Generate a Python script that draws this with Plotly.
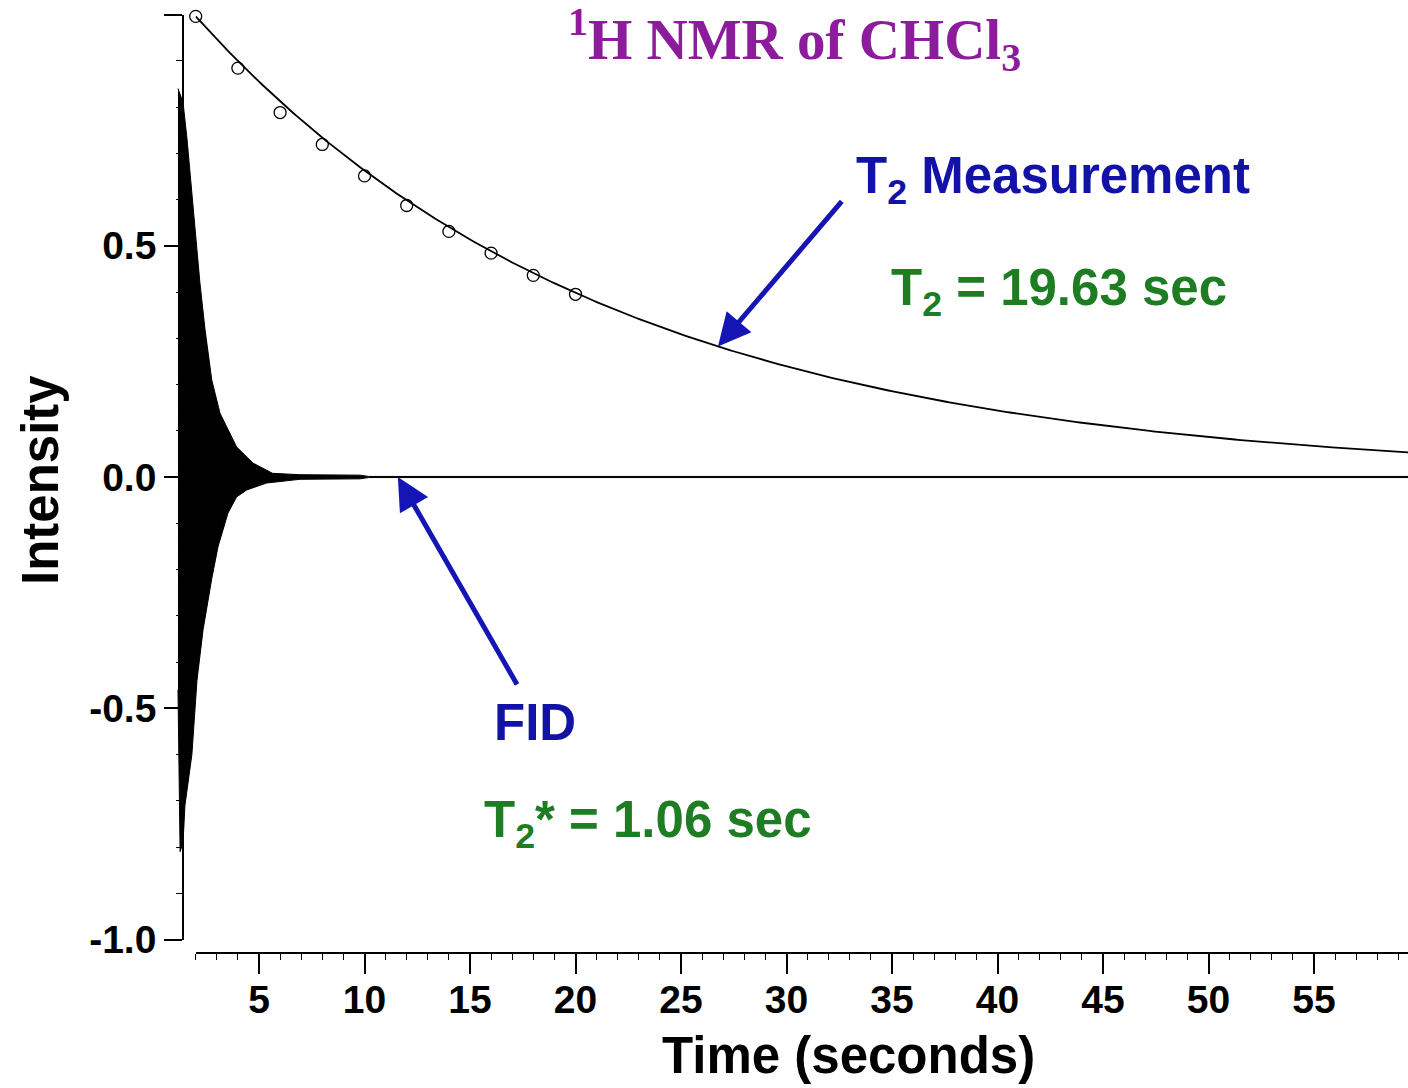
import numpy as np
import plotly.graph_objects as go

# ---------------------------------------------------------------- data
# T2 (spin-echo) measurement: echo time (s) and normalised echo intensity
t2_time = [2, 4, 6, 8, 10, 12, 14, 16, 18, 20]
t2_intensity = [0.996, 0.884, 0.788, 0.719, 0.651, 0.587, 0.531, 0.484, 0.436, 0.395]

# fitted relaxation constants (s)
T2_FIT = 19.63
T2_STAR = 1.06

# FID envelope (the oscillation is far too dense to resolve, so it is drawn
# as a solid band between its upper and lower envelope)
fid_t_upper = [1.16, 1.40, 1.59, 1.73, 1.97, 2.20, 2.44, 2.76, 3.15, 3.94,
               4.72, 5.64, 6.94, 9.79, 10.2, 59.5]
fid_upper = [0.84, 0.81, 0.73, 0.66, 0.53, 0.42, 0.32, 0.21, 0.138, 0.065,
             0.030, 0.008, 0.005, 0.004, 0.0012, 0.0012]
fid_t_lower = [1.16, 1.26, 1.40, 1.49, 1.82, 2.06, 2.35, 2.76, 3.06, 3.29,
               3.53, 3.94, 4.42, 5.36, 6.94, 9.79, 10.2, 59.5]
fid_lower = [-0.46, -0.81, -0.79, -0.71, -0.60, -0.44, -0.33, -0.22, -0.15, -0.115,
             -0.078, -0.043, -0.028, -0.013, -0.005, -0.004, -0.0012, -0.0012]

# axis ticks
x_major = [5, 10, 15, 20, 25, 30, 35, 40, 45, 50, 55]
y_major = [-1.0, -0.5, 0.0, 0.5, 1.0]
y_major_text = ["-1.0", "-0.5", "0.0", "0.5", ""]

# ---------------------------------------------------------------- geometry
W, H = 1408, 1088
X_ORIGIN, X_SCALE = 153.5, 21.1     # pixel of t = 0, pixels per second
Y_ORIGIN, Y_SCALE = 477.0, 462.5    # pixel of intensity 0, pixels per unit


def px_to_t(px):
    return (px - X_ORIGIN) / X_SCALE


def t_to_px(t):
    return X_ORIGIN + X_SCALE * t


def py_to_v(py):
    return (Y_ORIGIN - py) / Y_SCALE


def v_to_py(v):
    return Y_ORIGIN - Y_SCALE * v


def paper_x(px):
    return px / W


def paper_y(py):
    return 1 - py / H


t_right = px_to_t(W)

# fitted mono-exponential decay through the echo amplitudes
fit_t = np.linspace(2, t_right, 400)
fit_v = t2_intensity[0] * np.exp(-(fit_t - t2_time[0]) / T2_FIT)

SANS = "Liberation Sans, Arial, sans-serif"
SERIF = "Liberation Serif, Times New Roman, serif"
BLUE = "#1212A6"
GREEN = "#1E7D22"
PURPLE = "#8C1C9C"
LABEL_SIZE = 51

fig = go.Figure()

# FID band
fig.add_trace(go.Scatter(
    x=fid_t_upper + fid_t_lower[::-1],
    y=fid_upper + fid_lower[::-1],
    fill="toself", fillcolor="black",
    line=dict(color="black", width=1),
    mode="lines", hoverinfo="skip", showlegend=False,
    xaxis="x", yaxis="y",
))

# T2 fit curve and echo points
fig.add_trace(go.Scatter(
    x=fit_t, y=fit_v, mode="lines",
    line=dict(color="black", width=1.8),
    showlegend=False, xaxis="x2", yaxis="y2",
))
fig.add_trace(go.Scatter(
    x=t2_time, y=t2_intensity, mode="markers",
    marker=dict(symbol="circle-open", size=12, color="black",
                line=dict(width=1.3, color="black")),
    cliponaxis=False, showlegend=False, xaxis="x2", yaxis="y2",
))

tickfont = dict(family=SANS, size=39, color="black", weight="bold")

fig.update_layout(
    width=W, height=H,
    margin=dict(l=0, r=0, t=0, b=0, pad=0, autoexpand=False),
    paper_bgcolor="white", plot_bgcolor="rgba(0,0,0,0)",
    xaxis=dict(domain=[0, 1], range=[px_to_t(0), px_to_t(W)],
               visible=False, automargin=False),
    yaxis=dict(domain=[0, 1], range=[py_to_v(H), py_to_v(0)],
               visible=False, automargin=False),
    xaxis2=dict(
        domain=[paper_x(t_to_px(2)), 1], range=[2, t_right],
        anchor="free", position=paper_y(953), automargin=False,
        showline=True, linecolor="black", linewidth=1.6,
        showgrid=False, zeroline=False,
        tickmode="array", tickvals=x_major,
        ticks="outside", ticklen=20, tickwidth=1.6, tickcolor="black",
        minor=dict(dtick=1, tick0=0, ticks="outside", ticklen=6,
                   tickwidth=1.4, tickcolor="black", showgrid=False),
        tickfont=tickfont, ticklabelstandoff=-8,
    ),
    yaxis2=dict(
        domain=[paper_y(v_to_py(-1)), paper_y(v_to_py(1))], range=[-1, 1],
        anchor="free", position=paper_x(183), automargin=False,
        showline=True, linecolor="black", linewidth=1.6,
        showgrid=False, zeroline=False,
        tickmode="array", tickvals=y_major, ticktext=y_major_text,
        ticks="outside", ticklen=18, tickwidth=1.6, tickcolor="black",
        minor=dict(dtick=0.1, tick0=0, ticks="outside", ticklen=6,
                   tickwidth=1.4, tickcolor="black", showgrid=False),
        tickfont=tickfont, ticklabelstandoff=0,
    ),
)

annotations = [
    # title
    dict(text="<sup>1</sup>H NMR of CHCl<sub>3</sub>",
         x=paper_x(795), y=paper_y(40), xanchor="center", yanchor="middle",
         font=dict(family=SERIF, size=57, color=PURPLE, weight="bold")),
    # axis titles
    dict(text="Time (seconds)",
         x=paper_x(848), y=paper_y(1055), xanchor="center", yanchor="middle",
         font=dict(family=SANS, size=LABEL_SIZE, color="black", weight="bold")),
    dict(text="Intensity", textangle=-90,
         x=paper_x(40), y=paper_y(480), xanchor="center", yanchor="middle",
         font=dict(family=SANS, size=LABEL_SIZE, color="black", weight="bold")),
    # labels
    dict(text="T<sub>2</sub> Measurement",
         x=paper_x(1053), y=paper_y(179), xanchor="center", yanchor="middle",
         font=dict(family=SANS, size=LABEL_SIZE, color=BLUE, weight="bold")),
    dict(text="T<sub>2</sub> = 19.63 sec",
         x=paper_x(1059), y=paper_y(291), xanchor="center", yanchor="middle",
         font=dict(family=SANS, size=LABEL_SIZE, color=GREEN, weight="bold")),
    dict(text="FID",
         x=paper_x(535), y=paper_y(722), xanchor="center", yanchor="middle",
         font=dict(family=SANS, size=LABEL_SIZE, color=BLUE, weight="bold")),
    dict(text="T<sub>2</sub>* = 1.06 sec",
         x=paper_x(648), y=paper_y(823), xanchor="center", yanchor="middle",
         font=dict(family=SANS, size=LABEL_SIZE, color=GREEN, weight="bold")),
]
for a in annotations:
    a.update(xref="paper", yref="paper", showarrow=False)

# pointer arrows (data coordinates of the main axes)
arrows = [
    dict(x=26.75, y=t2_intensity[0] * np.exp(-(26.75 - t2_time[0]) / T2_FIT),
         ax=32.68, ay=0.599),
    dict(x=11.58, y=0.0, ax=17.27, ay=-0.452),
]
for a in arrows:
    annotations.append(dict(
        x=a["x"], y=float(a["y"]), ax=a["ax"], ay=a["ay"],
        xref="x", yref="y", axref="x", ayref="y", text="",
        showarrow=True, arrowhead=2, arrowsize=1.3, arrowwidth=5,
        arrowcolor="#1515B5",
    ))

fig.update_layout(annotations=annotations)

fig.write_html("out.html")
